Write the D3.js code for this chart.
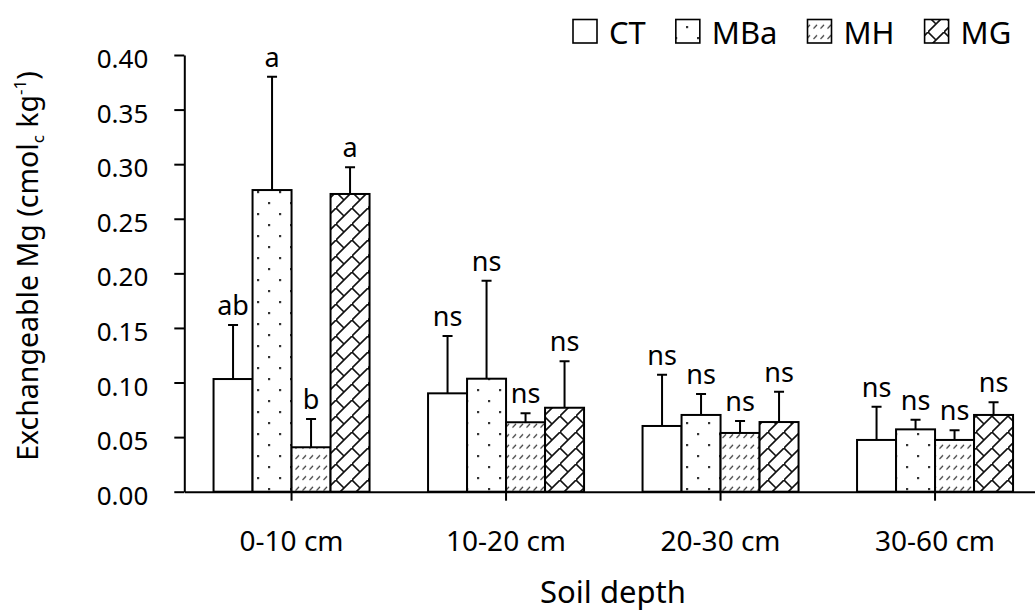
<!DOCTYPE html>
<html>
<head>
<meta charset="utf-8">
<script src="https://cdn.jsdelivr.net/npm/d3@7"></script>
<style>
  html, body { margin: 0; padding: 0; background: #fff; }
  svg { display: block; font-family: "Noto Sans", "Open Sans", sans-serif; }
</style>
</head>
<body>
<svg id="chart" width="1035" height="613"></svg>
<script>
// ---- data ----
const categories = ["0-10 cm", "10-20 cm", "20-30 cm", "30-60 cm"];
const seriesNames = ["CT", "MBa", "MH", "MG"];
const meanCT  = [0.1032, 0.0901, 0.0602, 0.0474];
const meanMBa = [0.2763, 0.1035, 0.0703, 0.0571];
const meanMH  = [0.0407, 0.0636, 0.0538, 0.0474];
const meanMG  = [0.2727, 0.0769, 0.0638, 0.0703];
const errCT   = [0.0495, 0.0525, 0.0470, 0.0305];
const errMBa  = [0.1038, 0.0898, 0.0192, 0.0089];
const errMH   = [0.0259, 0.0082, 0.0110, 0.0088];
const errMG   = [0.0244, 0.0425, 0.0278, 0.0116];
const letterCT  = ["ab", "ns", "ns", "ns"];
const letterMBa = ["a", "ns", "ns", "ns"];
const letterMH  = ["b", "ns", "ns", "ns"];
const letterMG  = ["a", "ns", "ns", "ns"];
const yTicks = [0, 0.05, 0.10, 0.15, 0.20, 0.25, 0.30, 0.35, 0.40];

const means = [meanCT, meanMBa, meanMH, meanMG];
const errs = [errCT, errMBa, errMH, errMG];
const letters = [letterCT, letterMBa, letterMH, letterMG];

const svg = d3.select("#chart");
svg.append("rect").attr("width", 1035).attr("height", 613).attr("fill", "#fff");

// ---- patterns ----
const defs = svg.append("defs");
const pDots = defs.append("pattern").attr("id", "pat-MBa")
  .attr("patternUnits", "userSpaceOnUse").attr("width", 22).attr("height", 22);
pDots.append("rect").attr("width", 22).attr("height", 22).attr("fill", "#fff");
pDots.append("rect").attr("x", 4).attr("y", 4).attr("width", 2.2).attr("height", 2.2).attr("fill", "#333");
pDots.append("rect").attr("x", 15).attr("y", 15).attr("width", 2.2).attr("height", 2.2).attr("fill", "#333");

const pDash = defs.append("pattern").attr("id", "pat-MH")
  .attr("patternUnits", "userSpaceOnUse").attr("width", 7).attr("height", 10.5);
pDash.append("rect").attr("width", 7).attr("height", 10.5).attr("fill", "#fff");
pDash.append("path").attr("d", "M1.5,7.5 L5,3.8").attr("stroke", "#333").attr("stroke-width", 1.2).attr("fill", "none");

const s = 16;
const pBrick = defs.append("pattern").attr("id", "pat-MG")
  .attr("patternUnits", "userSpaceOnUse").attr("width", s).attr("height", s);
pBrick.append("rect").attr("width", s).attr("height", s).attr("fill", "#fff");
pBrick.append("path")
  .attr("d", `M-1,${s + 1} L${s + 1},-1 M0,0 L${s / 2},${s / 2}`)
  .attr("stroke", "#111").attr("stroke-width", 1.6).attr("fill", "none");

const fills = ["#fff", "url(#pat-MBa)", "url(#pat-MH)", "url(#pat-MG)"];

// ---- scales ----
const y = d3.scaleLinear().domain([0, 0.4]).range([491.7, 55]);
const x = d3.scaleBand().domain(categories).range([184.3, 1042.3]).paddingInner(0).paddingOuter(0);
const barW = 39;
const xs = d3.scaleBand().domain(seriesNames).range([-2 * barW, 2 * barW]);

// ---- bars ----
const g = svg.append("g");
seriesNames.forEach((name, si) => {
  const data = categories.map((c, ci) => ({ c, v: means[si][ci], e: errs[si][ci], l: letters[si][ci] }));
  const cx = d => x(d.c) + x.bandwidth() / 2 + xs(name);
  g.selectAll(null).data(data).enter().append("rect")
    .attr("x", d => cx(d))
    .attr("y", d => y(d.v))
    .attr("width", xs.bandwidth())
    .attr("height", d => y(0) - y(d.v))
    .attr("fill", fills[si])
    .attr("stroke", "#000").attr("stroke-width", 2);
  // error bars
  g.selectAll(null).data(data).enter().append("path")
    .attr("d", d => {
      const mx = cx(d) + xs.bandwidth() / 2;
      return `M${mx},${y(d.v)} L${mx},${y(d.v + d.e)} M${mx - 5},${y(d.v + d.e)} L${mx + 5},${y(d.v + d.e)}`;
    })
    .attr("stroke", "#000").attr("stroke-width", 2).attr("fill", "none");
  // letters
  g.selectAll(null).data(data).enter().append("text")
    .attr("x", d => cx(d) + xs.bandwidth() / 2)
    .attr("y", d => y(d.v + d.e) - 10)
    .attr("text-anchor", "middle")
    .attr("font-size", 27)
    .attr("fill", "#000")
    .text(d => d.l);
});

// ---- axes ----
const yAxis = svg.append("g").attr("transform", "translate(184.3,0)")
  .call(d3.axisLeft(y).tickValues(yTicks).tickFormat(d3.format(".2f")).tickSize(10).tickSizeOuter(0).tickPadding(26));
yAxis.select(".domain").attr("stroke", "#000").attr("stroke-width", 2);
yAxis.selectAll(".tick line").attr("stroke", "#000").attr("stroke-width", 2);
yAxis.selectAll(".tick text").attr("font-size", 26).attr("font-family", "Noto Sans").attr("fill", "#000").attr("dy", "0.48em");

const xAxis = svg.append("g").attr("transform", `translate(0,${y(0)})`)
  .call(d3.axisBottom(x).tickSize(9).tickSizeOuter(0).tickPadding(30));
xAxis.select(".domain").attr("stroke", "#000").attr("stroke-width", 2);
xAxis.selectAll(".tick line").attr("stroke", "#000").attr("stroke-width", 2);
xAxis.selectAll(".tick text").attr("font-size", 28).attr("font-family", "Noto Sans").attr("fill", "#000");

// ---- axis titles ----
svg.append("text")
  .attr("x", 613).attr("y", 603)
  .attr("text-anchor", "middle").attr("font-size", 31).attr("fill", "#000")
  .text("Soil depth");

const yt = svg.append("text")
  .attr("transform", "translate(38,266) rotate(-90)")
  .attr("text-anchor", "middle").attr("font-size", 28.5).attr("fill", "#000");
yt.append("tspan").text("Exchangeable Mg (cmol");
yt.append("tspan").attr("font-size", 17).attr("dy", 6).text("c");
yt.append("tspan").attr("dy", -6).text(" kg");
yt.append("tspan").attr("font-size", 17).attr("dy", -12).text("-1");
yt.append("tspan").attr("dy", 12).text(")");

// ---- legend ----
const legend = svg.append("g");
let lx = 573;
seriesNames.forEach((name, si) => {
  legend.append("rect")
    .attr("x", lx).attr("y", 19.5).attr("width", 24).attr("height", 23.5)
    .attr("fill", fills[si]).attr("stroke", "#000").attr("stroke-width", 1.6);
  const t = legend.append("text")
    .attr("x", lx + 36).attr("y", 44)
    .attr("font-size", 31).attr("fill", "#000").text(name);
  lx = lx + 36 + t.node().getComputedTextLength() + 30;
});
</script>
</body>
</html>
